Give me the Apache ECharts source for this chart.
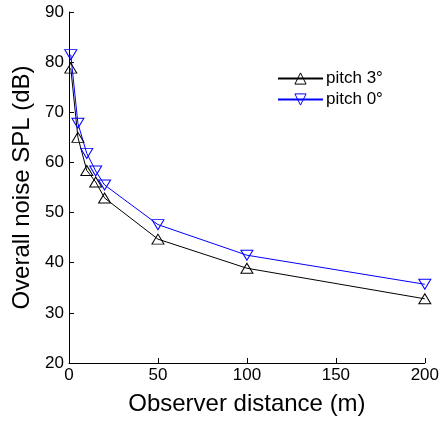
<!DOCTYPE html>
<html>
<head>
<meta charset="utf-8">
<script src="https://cdn.jsdelivr.net/npm/echarts@6/dist/echarts.min.js"></script>
<style>html,body{margin:0;padding:0;background:#fff;}#c{width:442px;height:421px;}</style>
</head>
<body>
<div id="c"></div>
<script>
const distances = [1, 5, 10, 15, 20, 50, 100, 200];
const pitch3 = [78.8, 65.0, 58.4, 56.1, 52.9, 44.7, 38.9, 32.8];
const pitch0 = [81.5, 67.8, 61.8, 58.3, 55.5, 47.6, 41.5, 35.7];
const seriesNames = ['pitch 3°', 'pitch 0°'];
const xTicks = [0, 50, 100, 150, 200];
const yTicks = [20, 30, 40, 50, 60, 70, 80, 90];

const font = 'Liberation Sans, Arial, Helvetica, sans-serif';
const chart = echarts.init(document.getElementById('c'), null, {renderer: 'canvas'});
const pair = (xs, ys) => xs.map((x, i) => [x, ys[i]]);
const downTri = 'path://M0,0 L12,0 L6,9 Z';
const upTri = 'path://M6,0 L12,9 L0,9 Z';
const clear = 'rgba(255,255,255,0)';

chart.setOption({
  animation: false,
  backgroundColor: '#fff',
  grid: {left: 69, right: 16, top: 12, bottom: 55, containLabel: false},
  legend: {
    orient: 'vertical', left: 272, top: 65, itemWidth: 45, itemHeight: 14, itemGap: 4,
    textStyle: {fontFamily: font, fontSize: 17, color: '#000', padding: [0, 0, 0, -2]},
    data: [
      {name: seriesNames[0], itemStyle: {color: clear, borderColor: '#000', borderWidth: 1}},
      {name: seriesNames[1], itemStyle: {color: clear, borderColor: '#0000ff', borderWidth: 1}}
    ]
  },
  xAxis: {
    type: 'value', min: xTicks[0], max: xTicks[xTicks.length - 1], interval: 50,
    name: 'Observer distance (m)', nameLocation: 'middle', nameGap: 29,
    nameTextStyle: {fontFamily: font, fontSize: 24, color: '#000'},
    axisLine: {show: true, onZero: false, lineStyle: {color: '#000', width: 1}},
    axisTick: {show: true, inside: true, length: 5, lineStyle: {color: '#000'}},
    axisLabel: {fontFamily: font, fontSize: 17, color: '#000', margin: 4},
    splitLine: {show: false}
  },
  yAxis: {
    type: 'value', min: yTicks[0], max: yTicks[yTicks.length - 1], interval: 10,
    name: 'Overall noise SPL (dB)', nameLocation: 'middle', nameGap: 27,
    nameTextStyle: {fontFamily: font, fontSize: 24, color: '#000'},
    axisLine: {show: true, onZero: false, lineStyle: {color: '#000', width: 1}},
    axisTick: {show: true, inside: true, length: 5, lineStyle: {color: '#000'}},
    axisLabel: {fontFamily: font, fontSize: 17, color: '#000', margin: 5},
    splitLine: {show: false}
  },
  series: [
    {
      name: seriesNames[0], type: 'line', data: pair(distances, pitch3),
      symbol: upTri, symbolSize: [12, 10], showSymbol: true,
      lineStyle: {color: '#000', width: 1},
      itemStyle: {color: clear, borderColor: '#000', borderWidth: 1}
    },
    {
      name: seriesNames[1], type: 'line', data: pair(distances, pitch0),
      symbol: downTri, symbolSize: [12, 10], showSymbol: true,
      lineStyle: {color: '#0000ff', width: 1},
      itemStyle: {color: clear, borderColor: '#0000ff', borderWidth: 1}
    }
  ]
});
</script>
</body>
</html>
